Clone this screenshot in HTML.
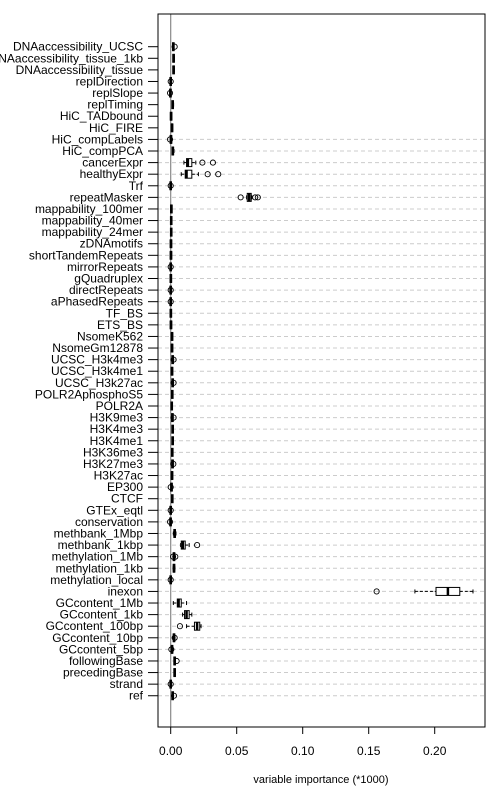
<!DOCTYPE html>
<html><head><meta charset="utf-8"><style>
body{margin:0;background:#fff;}
svg{display:block;font-family:"Liberation Sans",sans-serif;}
</style></head><body>
<svg id="chart" width="500" height="800" viewBox="0 0 500 800" xmlns="http://www.w3.org/2000/svg"></svg>
<script>
const categories=["DNAaccessibility_UCSC","DNAaccessibility_tissue_1kb","DNAaccessibility_tissue","replDirection","replSlope","replTiming","HiC_TADbound","HiC_FIRE","HiC_compLabels","HiC_compPCA","cancerExpr","healthyExpr","Trf","repeatMasker","mappability_100mer","mappability_40mer","mappability_24mer","zDNAmotifs","shortTandemRepeats","mirrorRepeats","gQuadruplex","directRepeats","aPhasedRepeats","TF_BS","ETS_BS","NsomeK562","NsomeGm12878","UCSC_H3k4me3","UCSC_H3k4me1","UCSC_H3k27ac","POLR2AphosphoS5","POLR2A","H3K9me3","H3K4me3","H3K4me1","H3K36me3","H3K27me3","H3K27ac","EP300","CTCF","GTEx_eqtl","conservation","methbank_1Mbp","methbank_1kbp","methylation_1Mb","methylation_1kb","methylation_local","inexon","GCcontent_1Mb","GCcontent_1kb","GCcontent_100bp","GCcontent_10bp","GCcontent_5bp","followingBase","precedingBase","strand","ref"];
const medians=[0.0020,0.0022,0.0022,0.0000,-0.0002,0.0015,0.0003,0.0010,0.0002,0.0016,0.0130,0.0120,0.0000,0.0595,0.0005,0.0004,0.0004,0.0002,0.0002,0.0000,0.0001,0.0000,0.0000,0.0001,0.0002,0.0010,0.0010,0.0015,0.0010,0.0015,0.0012,0.0008,0.0013,0.0015,0.0015,0.0012,0.0014,0.0010,0.0006,0.0012,0.0000,-0.0001,0.0030,0.0092,0.0025,0.0025,0.0000,0.2100,0.0060,0.0120,0.0200,0.0025,0.0010,0.0030,0.0030,0.0000,0.0015];
const q1s=medians.map((m,i)=>[0,0,0,0,0,0,0,0,0,0,0.0120,0.0110,0,0.0580,0,0,0,0,0,0,0,0,0,0,0,0,0,0,0,0,0,0,0,0,0,0,0,0,0,0,0,0,0,0.0080,0,0,0,0.2010,0.0050,0.0105,0.0180,0,0,0,0,0,0][i]||m-0.0006);
const q3s=medians.map((m,i)=>[0,0,0,0,0,0,0,0,0,0,0.0160,0.0160,0,0.0610,0,0,0,0,0,0,0,0,0,0,0,0,0,0,0,0,0,0,0,0,0,0,0,0,0,0,0,0,0,0.0110,0,0,0,0.2190,0.0080,0.0140,0.0220,0,0,0,0,0,0][i]||m+0.0006);
const whiskLo=[0.0015,0.0018,0.0018,-0.0005,-0.0007,0.0010,0,0.0006,-0.0003,0.0010,0.0100,0.0080,-0.0004,0.0575,0.0002,0.0001,0.0001,-0.0001,-0.0001,-0.0004,-0.0002,-0.0003,-0.0003,-0.0002,-0.0001,0.0006,0.0006,0.0010,0.0006,0.0010,0.0008,0.0004,0.0008,0.0010,0.0010,0.0008,0.0010,0.0006,0.0002,0.0008,-0.0005,-0.0005,0.0020,0.0075,0.0018,0.0018,-0.0005,0.1850,0.0020,0.0090,0.0120,0.0018,0.0004,0.0025,0.0025,-0.0004,0.0010];
const whiskHi=[0.0025,0.0028,0.0028,0.0005,0.0003,0.0022,0.0006,0.0014,0.0008,0.0025,0.0190,0.0210,0.0004,0.0615,0.0008,0.0007,0.0007,0.0005,0.0005,0.0004,0.0004,0.0003,0.0003,0.0004,0.0005,0.0014,0.0014,0.0022,0.0014,0.0020,0.0016,0.0012,0.0018,0.0020,0.0020,0.0016,0.0018,0.0014,0.0010,0.0016,0.0005,0.0004,0.0040,0.0140,0.0032,0.0032,0.0005,0.2290,0.0120,0.0160,0.0230,0.0032,0.0016,0.0035,0.0035,0.0004,0.0020];
const outliers=[[0.0030],[],[],[0],[-0.0005],[],[],[],[-0.0005],[],[0.024,0.032],[0.028,0.036],[0],[0.053,0.064,0.066],[],[],[],[],[],[0],[],[0],[0],[],[],[],[],[0.0022],[],[0.0022],[],[],[0.0022],[],[],[],[0.0020],[],[0],[],[0],[-0.0005],[],[0.020],[0.0035,0.0018],[],[0],[0.156],[],[],[0.007],[0.003],[0.0005],[0.0045],[],[0],[0.0025]];
const xTicks=[0,0.05,0.10,0.15,0.20];
const xTickLabels=["0.00","0.05","0.10","0.15","0.20"];
const NS="http://www.w3.org/2000/svg";
const svg=document.getElementById('chart');
const L=158,R=485,T=14,B=727;
const x=v=>170.7+v*1320;
const y=i=>46.7+i*11.59;
function mk(tag,attrs,parent){const e=document.createElementNS(NS,tag);for(const k in attrs)e.setAttribute(k,attrs[k]);(parent||svg).appendChild(e);return e;}
// grid
categories.forEach((c,i)=>{if(i>=8){const g=mk('line',{x1:L,x2:R,y1:y(i),y2:y(i),stroke:'#ccc','stroke-dasharray':'4,3','stroke-width':1});

}});
// zero line
const z=mk('line',{x1:x(0),x2:x(0),y1:T,y2:B,stroke:'#888','stroke-width':1.2});


categories.forEach((c,i)=>{
 const yy=y(i);
 const t=mk('text',{x:143,y:yy+4,'text-anchor':'end','font-size':12,fill:'#000'});t.textContent=c;
 
 
 const tk=mk('line',{x1:148,x2:L,y1:yy,y2:yy,stroke:'#000'});
 
 
 const g=mk('g',{});
 
 
 mk('line',{x1:x(whiskLo[i]),x2:x(q1s[i]),y1:yy,y2:yy,stroke:'#000','stroke-dasharray':'3,2'},g);
 mk('line',{x1:x(q3s[i]),x2:x(whiskHi[i]),y1:yy,y2:yy,stroke:'#000','stroke-dasharray':'3,2'},g);
 mk('line',{x1:x(whiskLo[i]),x2:x(whiskLo[i]),y1:yy-2,y2:yy+2,stroke:'#000'},g);
 mk('line',{x1:x(whiskHi[i]),x2:x(whiskHi[i]),y1:yy-2,y2:yy+2,stroke:'#000'},g);
 mk('rect',{x:x(q1s[i]),y:yy-4,width:Math.max(1,x(q3s[i])-x(q1s[i])),height:8,fill:'#fff',stroke:'#000','stroke-width':1},g);
 mk('line',{x1:x(medians[i]),x2:x(medians[i]),y1:yy-4,y2:yy+4,stroke:'#000','stroke-width':2.5},g);
 outliers[i].forEach(o=>{mk('circle',{cx:x(o),cy:yy,r:2.6,fill:'none',stroke:'#000','stroke-width':0.9},g);});
});
const frame=mk('rect',{x:L,y:T,width:R-L,height:B-T,fill:'none',stroke:'#000','stroke-width':1});


xTicks.forEach((v,k)=>{
 const tk=mk('line',{x1:x(v),x2:x(v),y1:B,y2:B+7,stroke:'#000'});
 
 
 const t=mk('text',{x:x(v),y:755,'text-anchor':'middle','font-size':12,fill:'#000'});t.textContent=xTickLabels[k];
 
 
});
const xt=mk('text',{x:321,y:783,'text-anchor':'middle','font-size':11,fill:'#000'});xt.textContent='variable importance (*1000)';


</script>
</body></html>
